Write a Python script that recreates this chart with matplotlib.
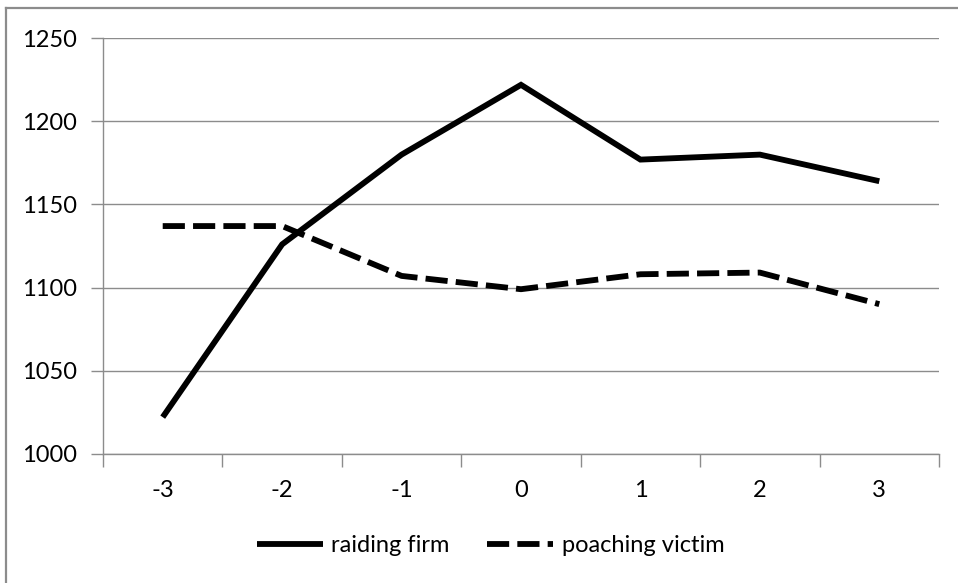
import numpy as np
import matplotlib
matplotlib.use("Agg")
import matplotlib.pyplot as plt
from matplotlib.lines import Line2D

# data
periods = ["-3", "-2", "-1", "0", "1", "2", "3"]
raiding_firm = [1022, 1126, 1180, 1222, 1177, 1180, 1164]
poaching_victim = [1137, 1137, 1107, 1099, 1108, 1109, 1090]
y_ticks = [1000, 1050, 1100, 1150, 1200, 1250]

plt.rcParams['font.family'] = ['Lato', 'DejaVu Sans']
GRAY = "#8c8c8c"
FS = 17

fig = plt.figure(figsize=(9.58, 5.83), dpi=100)
ax = fig.add_axes([103/958, 1-453.7/583, (939-103)/958, (453.7-38.3)/583])

x = np.arange(len(periods))
ax.plot(x, raiding_firm, color="black", lw=4.2, solid_capstyle="butt",
        solid_joinstyle="miter", label="raiding firm")
ax.plot(x, poaching_victim, color="black", lw=4.2, dashes=(3.8, 1.4),
        dash_capstyle="butt", label="poaching victim")

ax.set_xlim(-0.5, len(periods) - 0.5)
ax.set_ylim(y_ticks[0], y_ticks[-1])
ax.set_yticks(y_ticks)
ax.set_xticks(x)
ax.set_xticklabels(periods)
ax.set_xticks(np.arange(len(periods) + 1) - 0.5, minor=True)
ax.tick_params(axis="x", which="major", length=0, pad=19, labelsize=FS)
ax.tick_params(axis="x", which="minor", length=9, width=1, color=GRAY, direction="out")
ax.tick_params(axis="y", length=9, width=1, color=GRAY, direction="out", pad=10,
               labelsize=FS)

ax.grid(axis="y", color=GRAY, lw=1)
ax.set_axisbelow(True)
for s in ["top", "right"]:
    ax.spines[s].set_visible(False)
for s in ["left", "bottom"]:
    ax.spines[s].set_color(GRAY)
    ax.spines[s].set_linewidth(1)

leg = fig.legend(loc="center", bbox_to_anchor=(0.512, 1-546/583), ncol=2,
                 frameon=False, fontsize=FS, handlelength=2.8, handletextpad=0.35,
                 columnspacing=1.6)

# outer chart frame (only top and left edges visible)
fig.add_artist(Line2D([6/958, 1], [1-7.5/583, 1-7.5/583], color=GRAY, lw=1.6,
                      transform=fig.transFigure))
fig.add_artist(Line2D([6/958, 6/958], [0, 1-7.5/583], color=GRAY, lw=1.6,
                      transform=fig.transFigure))

fig.savefig("out.png", dpi=100)
